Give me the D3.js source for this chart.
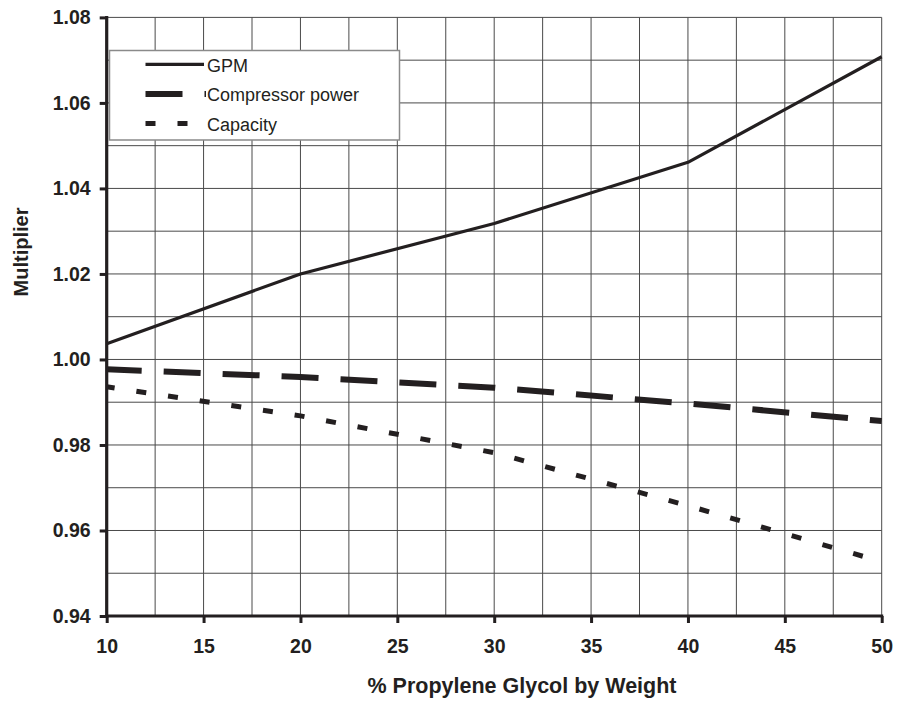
<!DOCTYPE html>
<html>
<head>
<meta charset="utf-8">
<script src="https://cdn.jsdelivr.net/npm/d3@7"></script>
<style>
html,body{margin:0;padding:0;background:#fff;}
svg{display:block;font-family:"Liberation Sans",Arial,sans-serif;}
</style>
</head>
<body>
<svg id="chart" width="898" height="703"></svg>
<script>
// Data
const pct = [10, 20, 30, 40, 50];
const gpm = [1.0037, 1.0200, 1.0318, 1.0461, 1.0708];
const compressorPower = [0.9977, 0.9959, 0.9934, 0.9897, 0.9856];
const capacity = [0.9936, 0.9868, 0.9782, 0.9658, 0.9527];
const xTicks = [10, 15, 20, 25, 30, 35, 40, 45, 50];
const yTicks = [0.94, 0.96, 0.98, 1.00, 1.02, 1.04, 1.06, 1.08];
const xGrid = [12.5, 15, 17.5, 20, 22.5, 25, 27.5, 30, 32.5, 35, 37.5, 40, 42.5, 45, 47.5, 50];
const yGrid = [0.95, 0.96, 0.97, 0.98, 0.99, 1.00, 1.01, 1.02, 1.03, 1.04, 1.05, 1.06, 1.07, 1.08];
const seriesNames = ["GPM", "Compressor power", "Capacity"];

const ink = "#231f20";
const svg = d3.select("#chart");
const x = d3.scaleLinear().domain([10, 50]).range([106.7, 881.7]);
const y = d3.scaleLinear().domain([0.94, 1.08]).range([616, 17.4]);

// grid
const g = svg.append("g");
g.selectAll("line.v").data(xGrid).enter().append("line")
  .attr("x1", d => x(d)).attr("x2", d => x(d))
  .attr("y1", y(0.94)).attr("y2", y(1.08))
  .attr("stroke", "#4a4a4a").attr("stroke-width", 1);
g.selectAll("line.h").data(yGrid).enter().append("line")
  .attr("x1", x(10)).attr("x2", x(50))
  .attr("y1", d => y(d)).attr("y2", d => y(d))
  .attr("stroke", "#4a4a4a").attr("stroke-width", 1);

// legend box (covers grid)
const legend = svg.append("g");
legend.append("rect").attr("x", 109.5).attr("y", 50.5).attr("width", 290).attr("height", 89.5)
  .attr("fill", "#fff").attr("stroke", "#8a8a8a").attr("stroke-width", 1.5);

const styles = [
  {w: 3.2, dash: null},
  {w: 6, dash: "37,22"},
  {w: 5, dash: "10,22"}
];
const seriesData = [gpm, compressorPower, capacity];
const offsets = [0, 2, 2];

const line = d3.line().x(d => x(d[0])).y(d => y(d[1]));
seriesData.forEach((vals, i) => {
  const p = svg.append("path")
    .datum(pct.map((v, j) => [v, vals[j]]))
    .attr("d", line)
    .attr("fill", "none")
    .attr("stroke", ink)
    .attr("stroke-width", styles[i].w)
    .attr("stroke-linejoin", "round");
  if (styles[i].dash) p.attr("stroke-dasharray", styles[i].dash).attr("stroke-dashoffset", offsets[i]);
});

// legend entries
seriesNames.forEach((name, i) => {
  const yy = 64.3 + i * 29.6;
  const l = legend.append("line").attr("x1", 145.5).attr("x2", 206).attr("y1", yy).attr("y2", yy)
    .attr("stroke", ink).attr("stroke-width", styles[i].w);
  if (i === 0) l.attr("x2", 204);
  if (styles[i].dash) l.attr("stroke-dasharray", styles[i].dash);
  legend.append("text").attr("x", 207).attr("y", yy + 7.2)
    .attr("font-size", 18).attr("fill", ink).text(name);
});

// axes
const xAxis = d3.axisBottom(x).tickValues(xTicks).tickSize(7).tickPadding(16).tickFormat(d3.format("d"));
const yAxis = d3.axisLeft(y).tickValues(yTicks).tickSize(7).tickPadding(9).tickFormat(d3.format(".2f"));
const gx = svg.append("g").attr("transform", `translate(0,${y(0.94)})`).call(xAxis);
const gy = svg.append("g").attr("transform", `translate(${x(10)},0)`).call(yAxis);
[gx, gy].forEach(a => {
  a.select(".domain").attr("stroke", ink).attr("stroke-width", 3.2);
  a.selectAll(".tick line").attr("stroke", ink).attr("stroke-width", 3);
  a.selectAll(".tick text").attr("fill", ink).attr("font-size", 19.5).attr("font-weight", "bold")
    .attr("font-family", "'Liberation Sans',Arial,sans-serif");
});
gx.select(".domain").attr("d", `M${x(10) - 1.5},0H${x(50) + 1.5}`);
gy.select(".domain").attr("d", `M0,${y(0.94) + 1.5}V${y(1.08) - 1.5}`);

// axis titles
svg.append("text").attr("x", 522).attr("y", 693).attr("text-anchor", "middle")
  .attr("font-size", 21.5).attr("font-weight", "bold").attr("fill", ink)
  .text("% Propylene Glycol by Weight");
svg.append("text").attr("transform", "translate(28,252) rotate(-90)").attr("text-anchor", "middle")
  .attr("font-size", 20).attr("font-weight", "bold").attr("fill", ink)
  .text("Multiplier");
</script>
</body>
</html>
